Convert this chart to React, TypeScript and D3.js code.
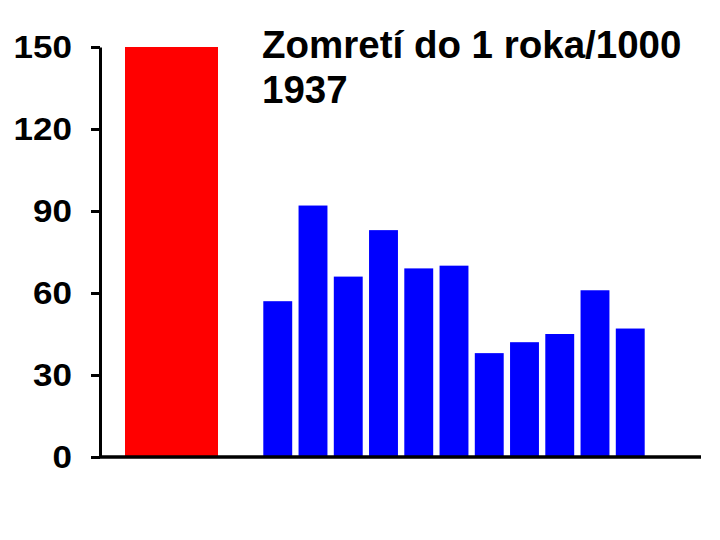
import React, { useEffect, useRef } from "react";
import * as d3 from "d3";

const years = ["1937"];
const refValues = [150];
const categories = ["1", "2", "3", "4", "5", "6", "7", "8", "9", "10", "11"];
const values = [57, 92, 66, 83, 69, 70, 38, 42, 45, 61, 47];
const yTicks = [0, 30, 60, 90, 120, 150];
const titleLines = ["Zomretí do 1 roka/1000", "1937"];

const W = 720;
const H = 540;
const FONT = "'Liberation Sans', Arial, Helvetica, sans-serif";

export default function App() {
  const axisRef = useRef<SVGGElement>(null);
  const y = d3.scaleLinear().domain([0, 150]).range([457, 47]);
  const xRef = d3.scaleBand<string>().domain(years).range([125, 218]).padding(0);
  const x = d3
    .scaleBand<string>()
    .domain(categories)
    .range([263.3, 644.7])
    .paddingInner(0.18)
    .paddingOuter(0);

  useEffect(() => {
    if (!axisRef.current) return;
    const g = d3.select(axisRef.current);
    g.selectAll("*").remove();
    g.call(
      d3
        .axisLeft(y)
        .tickValues(yTicks)
        .tickSize(9)
        .tickSizeOuter(0)
        .tickPadding(19)
        .tickFormat((d) => String(d))
    );
    g.select(".domain").attr("stroke", "#000").attr("stroke-width", 3);
    g.selectAll(".tick line").attr("stroke", "#000").attr("stroke-width", 3);
    g.selectAll(".tick text")
      .attr("fill", "#000")
      .attr("font-family", FONT)
      .attr("font-weight", "bold")
      .attr("font-size", 31)
      .attr("x", 0)
      .attr("transform", "translate(-28,1) scale(1.13,1)");
  }, []);

  return (
    <svg
      width={W}
      height={H}
      style={{ position: "absolute", left: 0, top: 0, background: "#fff" }}
    >
      <rect width={W} height={H} fill="#fff" />
      {refValues.map((v, i) => (
        <rect
          key={"r" + i}
          x={xRef(years[i])}
          y={y(v)}
          width={xRef.bandwidth()}
          height={y(0) - y(v)}
          fill="#ff0000"
        />
      ))}
      {values.map((v, i) => (
        <rect
          key={"b" + i}
          x={x(categories[i])}
          y={y(v)}
          width={x.bandwidth()}
          height={y(0) - y(v)}
          fill="#0000ff"
        />
      ))}
      <g ref={axisRef} transform="translate(100,0)" />
      <line x1={100} x2={701} y1={y(0)} y2={y(0)} stroke="#000" strokeWidth={3.5} />
      <text
        x={262}
        y={58}
        fontFamily={FONT}
        fontWeight="bold"
        fontSize={38.5}
        fill="#000"
      >
        {titleLines.map((t, i) => (
          <tspan key={i} x={262} dy={i === 0 ? 0 : 45}>
            {t}
          </tspan>
        ))}
      </text>
    </svg>
  );
}
